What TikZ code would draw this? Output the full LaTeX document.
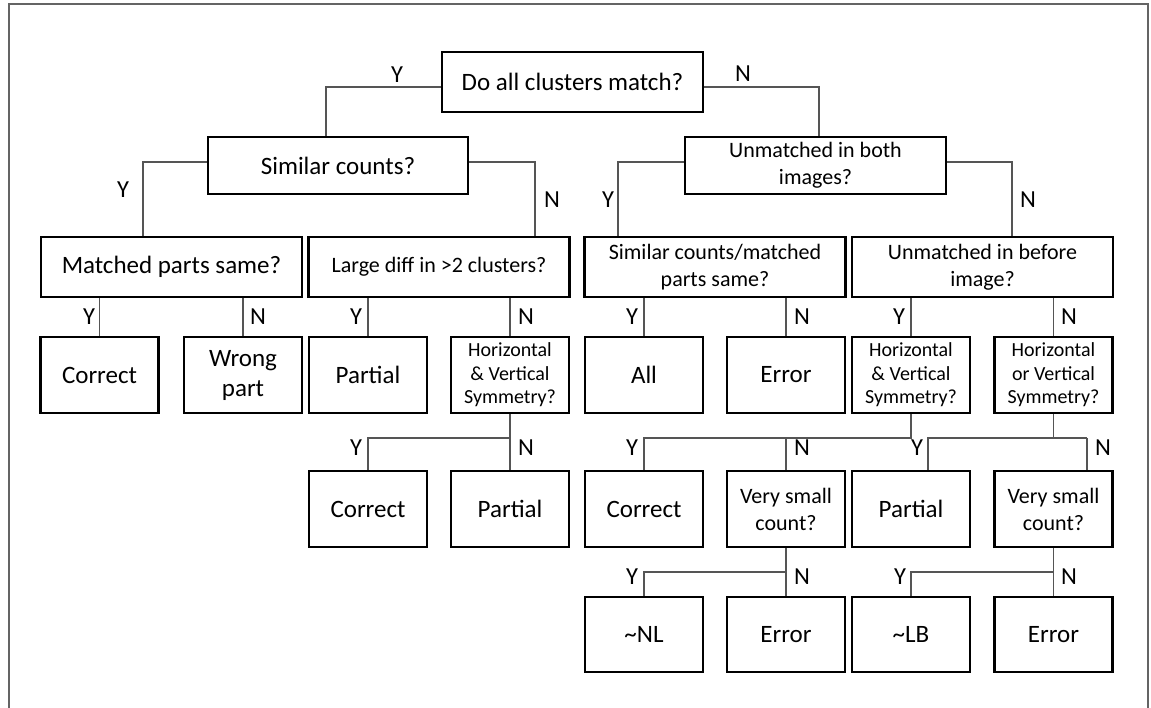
\documentclass[tikz,border=0pt]{standalone}
\usepackage{fontspec}
\setmainfont{Carlito}
\definecolor{conn}{RGB}{85,85,85}
\definecolor{frame}{RGB}{100,100,100}
\tikzset{
  box/.style={draw=black, line width=2.7pt, inner sep=0pt, align=center, fill=white},
  big/.style={box, font=\fontsize{25}{30}\selectfont},
  mid/.style={box, font=\fontsize{22}{27}\selectfont},
  sml/.style={box, font=\fontsize{20}{23.5}\selectfont},
  wide/.style={minimum width=261pt, minimum height=60pt},
  leaf/.style={minimum width=118pt, minimum height=76pt},
  yn/.style={inner sep=0pt, font=\fontsize{24.5}{24.5}\selectfont},
  conline/.style={draw=conn, line width=1.1pt},
}
\begin{document}
\begin{tikzpicture}[x=1pt,y=-1pt]
\useasboundingbox (0,0) rectangle (1151,708);
\draw[frame, line width=1.6pt] (9,708) -- (9,4) -- (1148,4) -- (1148,708);

% level 0
\node[big, minimum width=261pt, minimum height=60pt] (top) at (572.5,82) {Do all clusters match?};
% level 1
\node[big, minimum width=260pt, minimum height=57pt] (sc) at (338,165.5) {Similar counts?};
\node[mid, minimum width=261pt, minimum height=57pt] (ub) at (815.5,165.5) {Unmatched in both\\images?};
% level 2
\node[big, wide] (mp) at (171.5,267) {Matched parts same?};
\node[mid, wide] (ld) at (439,267) {Large diff in >2 clusters?};
\node[mid, wide] (scm) at (715,267) {Similar counts/matched\\parts same?};
\node[mid, wide] (ubi) at (982.5,267) {Unmatched in before\\image?};
% level 3
\node[big, leaf] (c1) at (99.5,375) {Correct};
\node[big, leaf] (wp) at (243,375) {Wrong\\part};
\node[big, leaf] (p1) at (368,375) {Partial};
\node[sml, leaf] (hv1) at (510,375) {Horizontal\\\& Vertical\\Symmetry?};
\node[big, leaf] (all) at (644,375) {All};
\node[big, leaf] (e1) at (786,375) {Error};
\node[sml, leaf] (hv2) at (911,375) {Horizontal\\\& Vertical\\Symmetry?};
\node[sml, leaf] (hov) at (1053.5,375) {Horizontal\\or Vertical\\Symmetry?};
% level 4
\node[big, leaf] (c2) at (368,509) {Correct};
\node[big, leaf] (p2) at (510,509) {Partial};
\node[big, leaf] (c3) at (644,509) {Correct};
\node[mid, leaf] (vs1) at (786,509) {Very small\\count?};
\node[big, leaf] (p3) at (911,509) {Partial};
\node[mid, leaf] (vs2) at (1053.5,509) {Very small\\count?};
% level 5
\node[big, leaf, minimum height=75pt] (nl) at (644,634.5) {\char`~NL};
\node[big, leaf, minimum height=75pt] (e2) at (786,634.5) {Error};
\node[big, leaf, minimum height=75pt] (lb) at (911,634.5) {\char`~LB};
\node[big, leaf, minimum height=75pt] (e3) at (1053.5,634.5) {Error};

% junction coordinates
\coordinate (j3a) at (510,438);
\coordinate (j3b) at (911,438);
\coordinate (j3c) at (1053.5,438);
\coordinate (j3cl) at (928,438);
\coordinate (j3cr) at (1087,438);
\coordinate (j4a) at (786,572);
\coordinate (j4b) at (1053.5,572);

% connectors
\draw[conline] ([yshift=-5pt]top.west) -| ([xshift=-12pt]sc.north);
\draw[conline] ([yshift=-5pt]top.east) -| ([xshift=3.5pt]ub.north);
\draw[conline] ([yshift=3.5pt]sc.west) -| ([xshift=-28.5pt]mp.north);
\draw[conline] ([yshift=3.5pt]sc.east) -| ([xshift=96pt]ld.north);
\draw[conline] ([yshift=3.5pt]ub.west) -| ([xshift=-97pt]scm.north);
\draw[conline] ([yshift=3.5pt]ub.east) -| ([xshift=29.5pt]ubi.north);

\draw[conline] (c1.north |- mp.south) -- (c1.north);
\draw[conline] (wp.north |- mp.south) -- (wp.north);
\draw[conline] (p1.north |- ld.south) -- (p1.north);
\draw[conline] (hv1.north |- ld.south) -- (hv1.north);
\draw[conline] (all.north |- scm.south) -- (all.north);
\draw[conline] (e1.north |- scm.south) -- (e1.north);
\draw[conline] (hv2.north |- ubi.south) -- (hv2.north);
\draw[conline] (hov.north |- ubi.south) -- (hov.north);

\draw[conline] (hv1.south) -- (p2.north);
\draw[conline] (j3a) -| (c2.north);
\draw[conline] (hv2.south) -- (j3b) -| (c3.north);
\draw[conline] (vs1.north |- j3b) -- (vs1.north);
\draw[conline] (hov.south) -- (j3c);
\draw[conline] (j3cr) -- (j3cl) -- (j3cl |- p3.north);
\draw[conline] (j3cr) -- (j3cr |- vs2.north);

\draw[conline] (vs1.south) -- (e2.north);
\draw[conline] (j4a) -| (nl.north);
\draw[conline] (vs2.south) -- (e3.north);
\draw[conline] (j4b) -| (lb.north);

% labels
\node[yn] (l0y) at (397,75) {Y};
\node[yn] (l0n) at (743,74) {N};
\node[yn] (l1y) at (123,190) {Y};
\node[yn] (l1n) at (552,200) {N};
\node[yn] (l2y) at (608,200) {Y};
\node[yn] (l2n) at (1028,200) {N};
\node[yn] (a1y) at (89,317) {Y};
\node[yn] (a1n) at (258,317) {N};
\node[yn] (a2y) at (356,317) {Y};
\node[yn] (a2n) at (526,317) {N};
\node[yn] (a3y) at (632,317) {Y};
\node[yn] (a3n) at (802,317) {N};
\node[yn] (a4y) at (899,317) {Y};
\node[yn] (a4n) at (1069,317) {N};
\node[yn] (b1y) at (356,448) {Y};
\node[yn] (b1n) at (526,448) {N};
\node[yn] (b2y) at (632,448) {Y};
\node[yn] (b2n) at (802,448) {N};
\node[yn] (b3y) at (917,448) {Y};
\node[yn] (b3n) at (1103,448) {N};
\node[yn] (c1y) at (632,577) {Y};
\node[yn] (c1n) at (802,577) {N};
\node[yn] (c2y) at (900,577) {Y};
\node[yn] (c2n) at (1069,577) {N};
\end{tikzpicture}
\end{document}
